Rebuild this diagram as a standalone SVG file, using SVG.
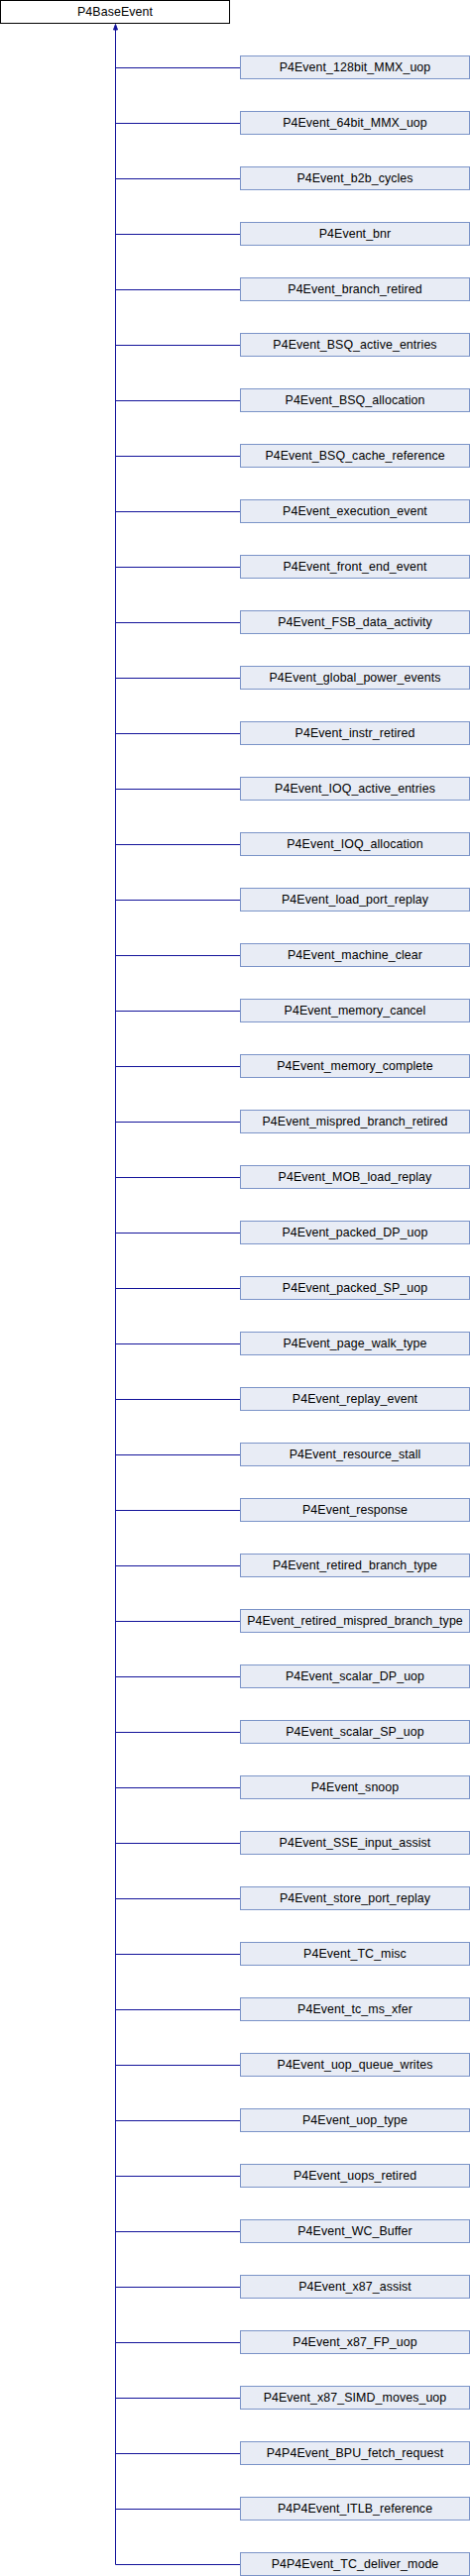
<svg xmlns="http://www.w3.org/2000/svg" width="474" height="2600" viewBox="0 0 474 2600">
<style>
.base{fill:#ffffff;stroke:#000000;stroke-width:1}
.cls{fill:#e8ecf5;stroke:#7b94c8;stroke-width:1}
.t{font-family:"Liberation Sans",Arial,sans-serif;font-size:12.4px;letter-spacing:0.08px;fill:#000000;text-anchor:middle}
.e{stroke:#13139a;stroke-width:1;fill:none}
.ah{fill:#13139a;stroke:#13139a;stroke-width:1}
</style>
<rect width="474" height="2600" fill="#ffffff"/>
<g id="edges">
<path class="e" d="M116.5,30 V2588.5"/>
<path class="e" d="M116.5,68.5 H242 M116.5,124.5 H242 M116.5,180.5 H242 M116.5,236.5 H242 M116.5,292.5 H242 M116.5,348.5 H242 M116.5,404.5 H242 M116.5,460.5 H242 M116.5,516.5 H242 M116.5,572.5 H242 M116.5,628.5 H242 M116.5,684.5 H242 M116.5,740.5 H242 M116.5,796.5 H242 M116.5,852.5 H242 M116.5,908.5 H242 M116.5,964.5 H242 M116.5,1020.5 H242 M116.5,1076.5 H242 M116.5,1132.5 H242 M116.5,1188.5 H242 M116.5,1244.5 H242 M116.5,1300.5 H242 M116.5,1356.5 H242 M116.5,1412.5 H242 M116.5,1468.5 H242 M116.5,1524.5 H242 M116.5,1580.5 H242 M116.5,1636.5 H242 M116.5,1692.5 H242 M116.5,1748.5 H242 M116.5,1804.5 H242 M116.5,1860.5 H242 M116.5,1916.5 H242 M116.5,1972.5 H242 M116.5,2028.5 H242 M116.5,2084.5 H242 M116.5,2140.5 H242 M116.5,2196.5 H242 M116.5,2252.5 H242 M116.5,2308.5 H242 M116.5,2364.5 H242 M116.5,2420.5 H242 M116.5,2476.5 H242 M116.5,2532.5 H242 M116.5,2588.5 H242"/>
<polygon class="ah" points="116.5,24.5 114.5,30 118.5,30"/>
</g>
<g id="P4BaseEvent"><rect class="base" x="0.5" y="0.5" width="231" height="23"/><text class="t" x="116" y="16">P4BaseEvent</text></g>
<g id="n1"><rect class="cls" x="242.5" y="56.5" width="231" height="23"/><text class="t" x="358" y="72">P4Event_128bit_MMX_uop</text></g>
<g id="n2"><rect class="cls" x="242.5" y="112.5" width="231" height="23"/><text class="t" x="358" y="128">P4Event_64bit_MMX_uop</text></g>
<g id="n3"><rect class="cls" x="242.5" y="168.5" width="231" height="23"/><text class="t" x="358" y="184">P4Event_b2b_cycles</text></g>
<g id="n4"><rect class="cls" x="242.5" y="224.5" width="231" height="23"/><text class="t" x="358" y="240">P4Event_bnr</text></g>
<g id="n5"><rect class="cls" x="242.5" y="280.5" width="231" height="23"/><text class="t" x="358" y="296">P4Event_branch_retired</text></g>
<g id="n6"><rect class="cls" x="242.5" y="336.5" width="231" height="23"/><text class="t" x="358" y="352">P4Event_BSQ_active_entries</text></g>
<g id="n7"><rect class="cls" x="242.5" y="392.5" width="231" height="23"/><text class="t" x="358" y="408">P4Event_BSQ_allocation</text></g>
<g id="n8"><rect class="cls" x="242.5" y="448.5" width="231" height="23"/><text class="t" x="358" y="464">P4Event_BSQ_cache_reference</text></g>
<g id="n9"><rect class="cls" x="242.5" y="504.5" width="231" height="23"/><text class="t" x="358" y="520">P4Event_execution_event</text></g>
<g id="n10"><rect class="cls" x="242.5" y="560.5" width="231" height="23"/><text class="t" x="358" y="576">P4Event_front_end_event</text></g>
<g id="n11"><rect class="cls" x="242.5" y="616.5" width="231" height="23"/><text class="t" x="358" y="632">P4Event_FSB_data_activity</text></g>
<g id="n12"><rect class="cls" x="242.5" y="672.5" width="231" height="23"/><text class="t" x="358" y="688">P4Event_global_power_events</text></g>
<g id="n13"><rect class="cls" x="242.5" y="728.5" width="231" height="23"/><text class="t" x="358" y="744">P4Event_instr_retired</text></g>
<g id="n14"><rect class="cls" x="242.5" y="784.5" width="231" height="23"/><text class="t" x="358" y="800">P4Event_IOQ_active_entries</text></g>
<g id="n15"><rect class="cls" x="242.5" y="840.5" width="231" height="23"/><text class="t" x="358" y="856">P4Event_IOQ_allocation</text></g>
<g id="n16"><rect class="cls" x="242.5" y="896.5" width="231" height="23"/><text class="t" x="358" y="912">P4Event_load_port_replay</text></g>
<g id="n17"><rect class="cls" x="242.5" y="952.5" width="231" height="23"/><text class="t" x="358" y="968">P4Event_machine_clear</text></g>
<g id="n18"><rect class="cls" x="242.5" y="1008.5" width="231" height="23"/><text class="t" x="358" y="1024">P4Event_memory_cancel</text></g>
<g id="n19"><rect class="cls" x="242.5" y="1064.5" width="231" height="23"/><text class="t" x="358" y="1080">P4Event_memory_complete</text></g>
<g id="n20"><rect class="cls" x="242.5" y="1120.5" width="231" height="23"/><text class="t" x="358" y="1136">P4Event_mispred_branch_retired</text></g>
<g id="n21"><rect class="cls" x="242.5" y="1176.5" width="231" height="23"/><text class="t" x="358" y="1192">P4Event_MOB_load_replay</text></g>
<g id="n22"><rect class="cls" x="242.5" y="1232.5" width="231" height="23"/><text class="t" x="358" y="1248">P4Event_packed_DP_uop</text></g>
<g id="n23"><rect class="cls" x="242.5" y="1288.5" width="231" height="23"/><text class="t" x="358" y="1304">P4Event_packed_SP_uop</text></g>
<g id="n24"><rect class="cls" x="242.5" y="1344.5" width="231" height="23"/><text class="t" x="358" y="1360">P4Event_page_walk_type</text></g>
<g id="n25"><rect class="cls" x="242.5" y="1400.5" width="231" height="23"/><text class="t" x="358" y="1416">P4Event_replay_event</text></g>
<g id="n26"><rect class="cls" x="242.5" y="1456.5" width="231" height="23"/><text class="t" x="358" y="1472">P4Event_resource_stall</text></g>
<g id="n27"><rect class="cls" x="242.5" y="1512.5" width="231" height="23"/><text class="t" x="358" y="1528">P4Event_response</text></g>
<g id="n28"><rect class="cls" x="242.5" y="1568.5" width="231" height="23"/><text class="t" x="358" y="1584">P4Event_retired_branch_type</text></g>
<g id="n29"><rect class="cls" x="242.5" y="1624.5" width="231" height="23"/><text class="t" x="358" y="1640">P4Event_retired_mispred_branch_type</text></g>
<g id="n30"><rect class="cls" x="242.5" y="1680.5" width="231" height="23"/><text class="t" x="358" y="1696">P4Event_scalar_DP_uop</text></g>
<g id="n31"><rect class="cls" x="242.5" y="1736.5" width="231" height="23"/><text class="t" x="358" y="1752">P4Event_scalar_SP_uop</text></g>
<g id="n32"><rect class="cls" x="242.5" y="1792.5" width="231" height="23"/><text class="t" x="358" y="1808">P4Event_snoop</text></g>
<g id="n33"><rect class="cls" x="242.5" y="1848.5" width="231" height="23"/><text class="t" x="358" y="1864">P4Event_SSE_input_assist</text></g>
<g id="n34"><rect class="cls" x="242.5" y="1904.5" width="231" height="23"/><text class="t" x="358" y="1920">P4Event_store_port_replay</text></g>
<g id="n35"><rect class="cls" x="242.5" y="1960.5" width="231" height="23"/><text class="t" x="358" y="1976">P4Event_TC_misc</text></g>
<g id="n36"><rect class="cls" x="242.5" y="2016.5" width="231" height="23"/><text class="t" x="358" y="2032">P4Event_tc_ms_xfer</text></g>
<g id="n37"><rect class="cls" x="242.5" y="2072.5" width="231" height="23"/><text class="t" x="358" y="2088">P4Event_uop_queue_writes</text></g>
<g id="n38"><rect class="cls" x="242.5" y="2128.5" width="231" height="23"/><text class="t" x="358" y="2144">P4Event_uop_type</text></g>
<g id="n39"><rect class="cls" x="242.5" y="2184.5" width="231" height="23"/><text class="t" x="358" y="2200">P4Event_uops_retired</text></g>
<g id="n40"><rect class="cls" x="242.5" y="2240.5" width="231" height="23"/><text class="t" x="358" y="2256">P4Event_WC_Buffer</text></g>
<g id="n41"><rect class="cls" x="242.5" y="2296.5" width="231" height="23"/><text class="t" x="358" y="2312">P4Event_x87_assist</text></g>
<g id="n42"><rect class="cls" x="242.5" y="2352.5" width="231" height="23"/><text class="t" x="358" y="2368">P4Event_x87_FP_uop</text></g>
<g id="n43"><rect class="cls" x="242.5" y="2408.5" width="231" height="23"/><text class="t" x="358" y="2424">P4Event_x87_SIMD_moves_uop</text></g>
<g id="n44"><rect class="cls" x="242.5" y="2464.5" width="231" height="23"/><text class="t" x="358" y="2480">P4P4Event_BPU_fetch_request</text></g>
<g id="n45"><rect class="cls" x="242.5" y="2520.5" width="231" height="23"/><text class="t" x="358" y="2536">P4P4Event_ITLB_reference</text></g>
<g id="n46"><rect class="cls" x="242.5" y="2576.5" width="231" height="23"/><text class="t" x="358" y="2592">P4P4Event_TC_deliver_mode</text></g>
</svg>
